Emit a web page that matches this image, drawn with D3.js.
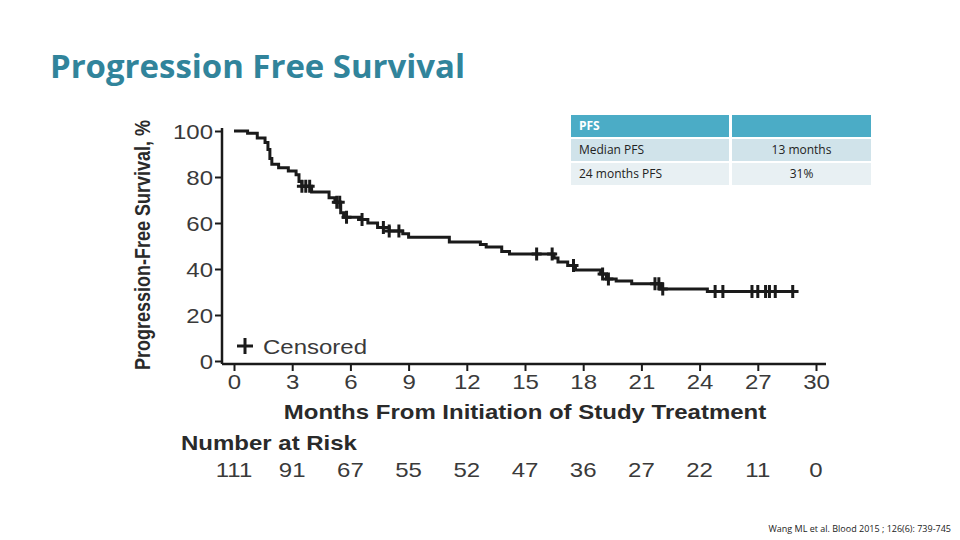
<!DOCTYPE html>
<html>
<head>
<meta charset="utf-8">
<script src="https://cdn.jsdelivr.net/npm/d3@7"></script>
<style>
  body { margin: 0; background: #fff; }
  svg { display: block; }
</style>
</head>
<body>
<svg id="chart" width="960" height="540"></svg>
<script>
// step points of the PFS curve: months, survival %
const stepMonths = [0, 0.7, 1.2, 1.6, 1.75, 1.85, 1.95, 2.3, 2.8, 3.2, 3.35, 3.5, 4.0, 4.9, 5.2, 5.5, 5.65, 6.5, 6.9, 7.4, 8.0, 8.7, 9.0, 11.1, 12.7, 13.0, 13.8, 14.2, 16.5, 16.7, 17.2, 17.6, 18.9, 19.2, 19.7, 20.5, 22.0, 24.4, 29.1];
const stepSurvival = [100, 99, 97, 95, 92, 88, 85.5, 84, 82.6, 81, 78, 76, 73.5, 71, 69, 64.5, 62.5, 61.5, 60, 58, 56.5, 55.3, 53.8, 51.7, 50.6, 49.6, 47.6, 46.5, 44.8, 43, 41.5, 39.6, 37.8, 35.6, 34.8, 33.6, 31.3, 30.2, 30.2];

// censored observations, months
const censorMonths = [3.5, 3.7, 3.9, 5.3, 5.45, 5.8, 6.6, 7.7, 8.0, 8.5, 15.6, 16.4, 17.5, 19.0, 19.3, 21.7, 21.9, 22.1, 24.8, 25.2, 26.7, 27.0, 27.4, 27.6, 27.9, 28.8];

const xTicks = [0, 3, 6, 9, 12, 15, 18, 21, 24, 27, 30];
const yTicks = [0, 20, 40, 60, 80, 100];
const atRisk = [111, 91, 67, 55, 52, 47, 36, 27, 22, 11, 0];

// summary table
const tableRows = [
  ['PFS', ''],
  ['Median PFS', '13 months'],
  ['24 months PFS', '31%']
];

const svg = d3.select('#chart');
const font = "'Liberation Sans', Arial, sans-serif";
const stretch = 'scale(1.2,1)'; // figure was pasted a bit wide

// title
svg.append('text')
  .attr('x', 50).attr('y', 78)
  .attr('textLength', 415).attr('lengthAdjust', 'spacingAndGlyphs')
  .style('font-family', "'Open Sans', sans-serif")
  .style('font-weight', 'bold')
  .style('font-size', '32px')
  .style('fill', '#31849b')
  .text('Progression Free Survival');

const x = d3.scaleLinear().domain([0, 30]).range([234, 816]);
const y = d3.scaleLinear().domain([0, 100]).range([361, 131]);
const axisLeft = 222, axisBottom = 364;

// axes
const xAxis = svg.append('g')
  .attr('transform', `translate(0,${axisBottom})`)
  .call(d3.axisBottom(x).tickValues(xTicks).tickSize(7).tickPadding(3).tickSizeOuter(0));
xAxis.select('.domain').attr('d', `M${axisLeft},0H826`);

const yAxis = svg.append('g')
  .attr('transform', `translate(${axisLeft},0)`)
  .call(d3.axisLeft(y).tickValues(yTicks).tickSize(7).tickPadding(3).tickSizeOuter(0));
yAxis.select('.domain').attr('d', `M0,${y(100) - 3}V${axisBottom}`);

[xAxis, yAxis].forEach(a => {
  a.select('.domain').attr('stroke', '#1a1a1a').attr('stroke-width', 2.5);
  a.selectAll('.tick line').attr('stroke', '#1a1a1a').attr('stroke-width', 2);
  a.selectAll('.tick text')
    .attr('transform', stretch)
    .style('font-family', font)
    .style('font-size', '20px')
    .style('fill', '#3a3a3a');
});
xAxis.selectAll('.tick text').attr('dy', '0.75em');
yAxis.selectAll('.tick text').attr('x', -7.5).attr('dy', '0.36em');

// axis titles
svg.append('text')
  .attr('transform', `translate(150,245) ${stretch} rotate(-90)`)
  .attr('text-anchor', 'middle')
  .style('font-family', font).style('font-weight', 'bold')
  .style('font-size', '18px').style('fill', '#2a2a2a')
  .text('Progression-Free Survival, %');

svg.append('text')
  .attr('transform', `translate(525,419) ${stretch}`)
  .attr('text-anchor', 'middle')
  .style('font-family', font).style('font-weight', 'bold')
  .style('font-size', '20px').style('fill', '#2a2a2a')
  .text('Months From Initiation of Study Treatment');

// number at risk
svg.append('text')
  .attr('transform', `translate(181,450) ${stretch}`)
  .style('font-family', font).style('font-weight', 'bold')
  .style('font-size', '20px').style('fill', '#2a2a2a')
  .text('Number at Risk');

svg.append('g').selectAll('text')
  .data(atRisk)
  .join('text')
  .attr('transform', (d, i) => `translate(${x(xTicks[i])},477) ${stretch}`)
  .attr('text-anchor', 'middle')
  .style('font-family', font).style('font-size', '20px').style('fill', '#3a3a3a')
  .text(d => d);

// curve
const steps = stepMonths.map((m, i) => [m, stepSurvival[i]]);
const line = d3.line()
  .x(d => x(d[0]))
  .y(d => y(d[1]))
  .curve(d3.curveStepAfter);

svg.append('path')
  .datum(steps)
  .attr('d', line)
  .attr('fill', 'none')
  .attr('stroke', '#1a1a1a')
  .attr('stroke-width', 3);

// survival value at time t from the step curve
const bisect = d3.bisector(d => d[0]).right;
function survAt (t) {
  return steps[Math.max(0, bisect(steps, t) - 1)][1];
}

svg.append('g').selectAll('path')
  .data(censorMonths)
  .join('path')
  .attr('transform', d => `translate(${x(d)},${y(survAt(d))})`)
  .attr('d', 'M-5,0H5M0,-6.5V6.5')
  .attr('stroke', '#1a1a1a')
  .attr('stroke-width', 3);

// legend
svg.append('path')
  .attr('d', 'M237,346H253M245,338V354')
  .attr('stroke', '#1a1a1a')
  .attr('stroke-width', 3);
svg.append('text')
  .attr('transform', `translate(263,354) ${stretch}`)
  .style('font-family', font).style('font-size', '20px').style('fill', '#3a3a3a')
  .text('Censored');

// table
const colX = [571, 732];
const colW = [158, 139];
const rowY = [115, 139, 163];
const rowH = 22;
const rowFill = ['#4bacc6', '#d0e3ea', '#e8f0f3'];

const rows = svg.append('g').selectAll('g')
  .data(tableRows)
  .join('g')
  .attr('transform', (d, i) => `translate(0,${rowY[i]})`);

rows.each(function (row, i) {
  const g = d3.select(this);
  row.forEach((cell, j) => {
    g.append('rect')
      .attr('x', colX[j]).attr('y', 0)
      .attr('width', colW[j]).attr('height', rowH)
      .attr('fill', rowFill[i]);
    g.append('text')
      .attr('x', j === 0 ? colX[j] + 8 : colX[j] + colW[j] / 2)
      .attr('y', rowH / 2 + 4)
      .attr('text-anchor', j === 0 ? 'start' : 'middle')
      .style('font-family', "'Open Sans', sans-serif")
      .style('font-size', '12px')
      .style('font-weight', i === 0 ? 'bold' : 'normal')
      .style('fill', i === 0 ? '#fff' : '#222')
      .text(cell);
  });
});

// citation
svg.append('text')
  .attr('x', 951).attr('y', 532)
  .attr('text-anchor', 'end')
  .style('font-family', "'Open Sans', sans-serif")
  .style('font-size', '9px')
  .style('fill', '#222')
  .text('Wang ML et al. Blood 2015 ; 126(6): 739-745');
</script>
</body>
</html>
